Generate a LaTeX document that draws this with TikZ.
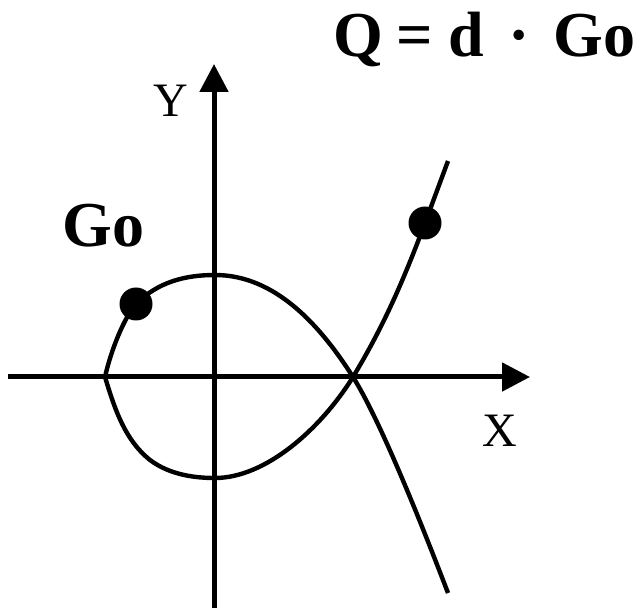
\documentclass[tikz,border=0pt]{standalone}
\usepackage{fontspec}
\setmainfont{Liberation Serif}
\usetikzlibrary{arrows.meta,positioning}

\begin{document}
\begin{tikzpicture}[
    x=0.5pt, y=-0.5pt,
    axis/.style={line width=2.5pt, -{Triangle[length=14pt, width=14pt]}},
    curve/.style={line width=2.2pt},
    point/.style={circle, fill=black, inner sep=0pt, minimum size=16.5pt},
    axislabel/.style={inner sep=0pt, anchor=base west, font=\fontsize{24}{28}\selectfont},
    biglabel/.style={inner sep=0pt, anchor=base west, font=\fontsize{32}{36}\selectfont\bfseries}
]
\useasboundingbox (0,0) rectangle (636,608);

% --- points ---
\coordinate (xleft) at (8,377);
\coordinate (xright) at (530,377);
\coordinate (ybottom) at (214,608);
\coordinate (ytop) at (214,64);

\coordinate (left) at (105,377);
\coordinate (top) at (215,275);
\coordinate (bottom) at (215,478);
\coordinate (cross) at (353,377);
\coordinate (upend) at (448,161);
\coordinate (downend) at (448,593);

\node[point] (g0) at (136,304) {};
\node[point] (q) at (425,223) {};

% --- labels ---
\node[biglabel] (qlabel) at (333,57)
    {Q\hspace{6.5pt}=\hspace{8pt}d\hspace{12pt}\textperiodcentered\hspace{12pt}Go};
\node[biglabel] (golabel) at (62,247) {Go};
\node[axislabel] (ylabel) at (153,117) {Y};
\node[axislabel] (xlabel) at (482,446) {X};

% --- axes ---
\draw[axis] (xleft) -- (xright);
\draw[axis] (ybottom) -- (ytop);

% --- curve ---
\draw[curve] (left) .. controls (111,350) and (124,318) .. (g0.center)
    .. controls (158,282) and (185,275) .. (top)
    .. controls (275,275) and (320,325) .. (cross)
    .. controls (380,420) and (420,520) .. (downend);
\draw[curve] (left) .. controls (115,410) and (125,440) .. (150,460)
    .. controls (170,475) and (195,478) .. (bottom)
    .. controls (265,478) and (320,430) .. (cross)
    .. controls (380,332) and (400,290) .. (q.center) -- (upend);

\end{tikzpicture}
\end{document}
